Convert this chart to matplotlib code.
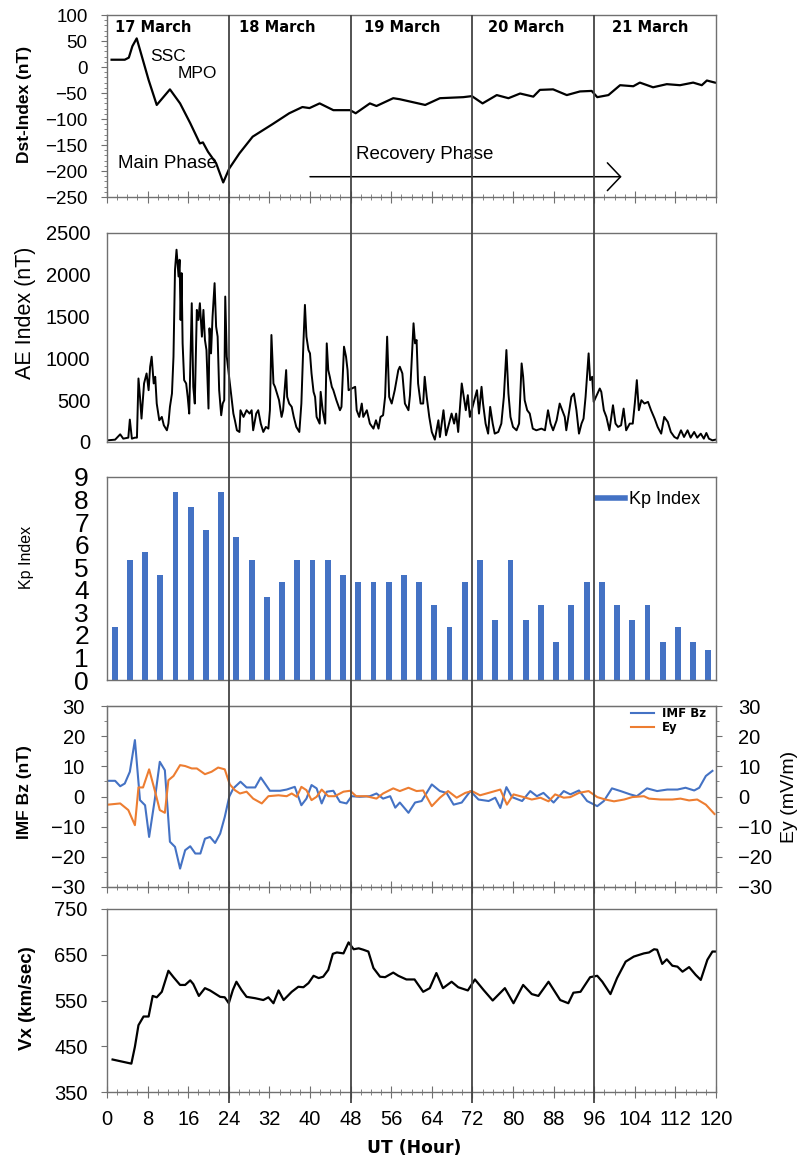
import matplotlib
matplotlib.use("Agg")
import matplotlib.pyplot as plt
import matplotlib.ticker as ticker
from matplotlib import font_manager
from matplotlib.lines import Line2D
import numpy as np

plt.rcParams["font.family"] = "Liberation Sans"
names = {f.name for f in font_manager.fontManager.ttflist}
NARROW = "Liberation Sans Narrow" if "Liberation Sans Narrow" in names else "Liberation Sans"

### Data ###
days = ["17 March", "18 March", "19 March", "20 March", "21 March"]

# Dst index (nT)
dst_hour = [0.9, 3.5, 4.3, 5.0, 5.85, 6.5, 8.2, 9.8, 12.4, 14.4,
            16.4, 18.3, 18.9, 19.9, 21.5, 22.9, 24.1, 26.1, 28.7, 31.3,
            32.6, 35.9, 38.5, 39.9, 41.9, 44.6, 47.9, 49.0, 51.8, 53.1,
            56.4, 57.7, 62.7, 65.6, 70.2, 71.9, 74.0, 76.8, 79.1, 81.4,
            84.0, 85.3, 87.9, 90.6, 93.2, 95.5, 96.6, 98.8, 101.1, 103.7,
            105.0, 107.6, 110.3, 112.9, 115.5, 117.2, 118.2, 119.8]
dst_nt = [14, 14, 18, 40, 55, 33, -25, -73, -43, -70,
          -108, -147, -145, -163, -185, -222, -195, -166, -134, -118,
          -110, -89, -77, -79, -70, -83, -83, -89, -70, -75,
          -60, -62, -73, -60, -58, -56, -70, -54, -60, -51,
          -57, -44, -43, -54, -47, -46, -58, -54, -35, -37,
          -30, -39, -33, -35, -30, -35, -26, -30]

# AE index (nT)
ae_hour = [0.1, 1.6, 2.6, 3.2, 4.2, 4.5, 4.9, 5.5, 5.9, 6.2,
           6.5, 6.8, 7.3, 7.8, 8.2, 8.5, 8.8, 9.2, 9.5, 9.8,
           10.3, 10.8, 11.2, 11.8, 12.1, 12.4, 12.8, 13.1, 13.4, 13.7,
           14.1, 14.3, 14.5, 14.7, 14.9, 15.2, 15.6, 15.9, 16.2, 16.7,
           17.0, 17.3, 17.7, 18.0, 18.3, 18.7, 19.0, 19.3, 19.6, 20.0,
           20.2, 20.5, 20.8, 21.2, 21.5, 21.8, 22.1, 22.5, 22.8, 23.1,
           23.3, 23.6, 24.9, 25.2, 25.6, 26.1, 26.3, 26.9, 27.5, 28.1,
           28.5, 28.8, 29.4, 29.8, 30.3, 30.8, 31.3, 31.8, 32.1, 32.4,
           32.8, 33.1, 33.4, 33.9, 34.4, 34.7, 35.3, 35.5, 35.9, 36.4,
           36.8, 37.3, 37.9, 38.3, 38.7, 39.0, 39.3, 39.7, 40.0, 40.3,
           40.7, 41.0, 41.3, 41.9, 42.1, 42.5, 43.0, 43.3, 43.6, 43.9,
           44.3, 44.6, 45.2, 45.9, 46.2, 46.7, 47.1, 47.4, 47.6, 48.9,
           49.2, 49.7, 50.2, 50.5, 51.2, 51.8, 52.5, 53.0, 53.5, 53.9,
           54.4, 54.8, 55.2, 55.6, 56.1, 56.7, 57.4, 57.7, 58.2, 58.7,
           59.4, 59.7, 60.0, 60.4, 60.7, 61.0, 61.3, 61.8, 62.3, 62.6,
           63.0, 63.5, 64.0, 64.6, 65.3, 65.6, 66.3, 66.8, 67.4, 67.9,
           68.4, 68.8, 69.2, 69.9, 70.3, 70.7, 71.1, 71.5, 72.9, 73.3,
           73.8, 74.1, 74.6, 75.1, 75.5, 76.0, 76.4, 77.1, 77.7, 78.2,
           78.7, 79.1, 79.5, 80.0, 80.7, 81.2, 81.7, 82.0, 82.3, 82.8,
           83.3, 83.9, 84.6, 85.6, 86.3, 86.9, 87.4, 87.9, 88.6, 89.2,
           89.7, 90.2, 90.5, 91.1, 91.5, 92.0, 92.5, 93.0, 93.5, 93.9,
           94.3, 94.9, 95.2, 95.6, 95.9, 97.1, 97.4, 97.9, 98.4, 99.0,
           99.7, 100.2, 100.7, 101.3, 101.8, 102.3, 103.0, 103.6, 104.0, 104.4,
           104.8, 105.3, 105.9, 106.6, 107.2, 107.9, 108.5, 109.2, 109.8, 110.5,
           111.1, 111.8, 112.4, 113.1, 113.7, 114.4, 115.0, 115.7, 116.3, 117.0,
           117.6, 118.1, 118.6, 119.3, 119.9]
ae_nt = [20, 28, 92, 40, 52, 268, 40, 52, 52, 760,
         540, 280, 700, 820, 620, 900, 1020, 700, 780, 460,
         260, 300, 200, 140, 220, 420, 580, 1020, 2060, 2300,
         1980, 2180, 1460, 2020, 1180, 740, 700, 540, 340, 1660,
         660, 460, 1580, 1460, 1660, 1260, 1580, 1220, 1100, 400,
         1360, 1060, 1500, 1900, 1380, 1260, 620, 320, 460, 500,
         1740, 1020, 340, 260, 140, 120, 380, 300, 380, 340,
         380, 140, 340, 380, 220, 120, 180, 160, 380, 1280,
         700, 660, 600, 500, 300, 380, 860, 540, 460, 420,
         300, 180, 120, 460, 1180, 1640, 1260, 1100, 1060, 820,
         600, 540, 300, 220, 600, 380, 220, 1180, 860, 780,
         660, 620, 500, 380, 420, 1140, 1020, 860, 620, 660,
         380, 300, 460, 300, 380, 220, 160, 260, 160, 300,
         320, 540, 1260, 540, 460, 620, 860, 900, 820, 460,
         380, 560, 940, 1420, 1180, 1220, 700, 460, 460, 780,
         540, 300, 120, 28, 260, 60, 380, 80, 220, 340,
         220, 340, 120, 700, 540, 380, 560, 300, 620, 340,
         660, 460, 220, 100, 420, 220, 100, 120, 220, 540,
         1100, 580, 300, 180, 140, 220, 940, 780, 500, 380,
         340, 160, 140, 160, 140, 380, 220, 140, 260, 460,
         380, 300, 140, 380, 540, 580, 380, 100, 220, 280,
         540, 1060, 740, 780, 480, 640, 600, 380, 300, 140,
         440, 220, 180, 200, 400, 140, 220, 220, 460, 740,
         380, 500, 460, 480, 380, 280, 180, 100, 300, 240,
         120, 60, 40, 140, 60, 140, 52, 120, 52, 100,
         40, 108, 40, 20, 28]

# Kp index, 3-hourly
kp_val = [2.33, 5.33, 5.67, 4.67, 8.33, 7.67, 6.67, 8.33,
          6.33, 5.33, 3.67, 4.33, 5.33, 5.33, 5.33, 4.67,
          4.33, 4.33, 4.33, 4.67, 4.33, 3.33, 2.33, 4.33,
          5.33, 2.67, 5.33, 2.67, 3.33, 1.67, 3.33, 4.33,
          4.33, 3.33, 2.67, 3.33, 1.67, 2.33, 1.67, 1.33]

# IMF Bz (nT) and Ey (mV/m)
bz_hour = [0.2, 1.6, 2.6, 3.5, 4.5, 5.5, 6.5, 7.5, 8.3, 9.4,
           10.4, 11.4, 12.4, 13.4, 14.4, 15.4, 16.4, 17.4, 18.4, 19.3,
           20.3, 21.3, 22.3, 23.2, 24.1, 24.9, 26.3, 27.5, 29.2, 30.3,
           32.1, 34.1, 35.4, 37.0, 38.3, 39.3, 40.3, 41.3, 42.3, 43.3,
           44.6, 45.9, 47.2, 48.2, 49.8, 51.8, 53.1, 54.4, 55.8, 56.8,
           57.7, 59.4, 60.7, 62.0, 64.0, 65.6, 66.9, 68.3, 69.9, 71.6,
           73.2, 75.2, 76.5, 77.5, 78.7, 79.8, 81.8, 83.4, 84.7, 86.0,
           88.0, 90.0, 91.3, 93.0, 94.6, 96.6, 97.9, 99.5, 101.2, 103.1,
           104.4, 106.4, 108.4, 110.4, 112.4, 114.0, 115.7, 116.7, 118.0, 119.3]
bz_nt = [5.2, 5.2, 3.4, 4.3, 8.2, 18.7, -1.2, -2.9, -13.4, -1.2,
         11.5, 8.7, -15, -16.7, -23.9, -17.8, -16.5, -18.9, -18.9, -14,
         -13.4, -15.4, -12.3, -6.8, 0, 2.7, 4.9, 3, 3, 6.3,
         1.9, 1.9, 2.3, 3.2, -2.9, -0.7, 3.8, 2.7, -2.3, 1.6,
         1.9, -1.8, -2.3, 0.1, -0.1, 0.1, 1, -0.7, 0.1, -3.7,
         -2, -5.4, -2, -1.5, 4, 1.8, 1.2, -2.7, -2, 1.8,
         -1, -1.5, -0.4, -3.8, 3.1, -0.2, -1.5, 1.8, 0.1, 1.2,
         -2, 1.8, 0.7, 2, -1.5, -3.2, -1.5, 2.7, 1.8, 0.7,
         0.1, 2.7, 1.8, 2.3, 2.3, 2.9, 2, 2.9, 6.8, 8.5]
ey_hour = [0.2, 2.6, 4.2, 5.5, 6.2, 7.1, 8.3, 9.4, 10.4, 11.4,
           12.1, 13.1, 14.4, 15.4, 16.7, 17.7, 19.3, 20.6, 21.9, 23.2,
           24.2, 25.2, 26.2, 27.5, 28.8, 30.5, 31.8, 33.8, 35.4, 36.4,
           37.4, 38.3, 39.3, 40.3, 41.3, 42.3, 43.6, 44.9, 46.6, 47.9,
           49.1, 51.1, 53.1, 54.4, 56.4, 57.7, 59.4, 61.0, 62.3, 64.0,
           65.6, 67.2, 68.9, 70.6, 71.9, 73.5, 75.2, 77.5, 78.8, 80.1,
           82.1, 83.7, 85.4, 87.0, 88.3, 90.0, 91.3, 93.0, 94.9, 96.6,
           98.2, 99.9, 101.9, 103.5, 105.8, 106.8, 109.1, 111.4, 113.0, 114.7,
           116.3, 118.0, 119.7]
ey_mv = [-2.7, -2.3, -4.5, -9.5, 3, 3, 9, 2.1, -4.5, -5.4,
         5.4, 6.8, 10.4, 10.1, 9.3, 9.3, 7.4, 8.2, 9.6, 9,
         4, 2.1, 1, 1.6, -0.7, -2.3, 0.1, 0.4, 0.1, 1,
         -0.1, 3.2, 2.1, -1.2, -0.1, 2.3, 0.1, 0.1, 1.6, 1.9,
         0.1, 0.1, -0.7, 1, 2.7, 1.8, 2.9, 1.8, 2, -3.2,
         -0.4, 1.8, -0.4, 1.2, 1.8, 0.4, 1.2, 2.3, -2.7, 0.7,
         -0.2, -1, -0.4, -1.6, 0.7, -0.4, -0.2, 1.2, 1.8, -0.2,
         -1, -1.6, -1, -0.2, 0.1, -0.7, -1, -1, -0.7, -1.3,
         -1, -2.7, -5.8]

# Solar wind Vx (km/sec)
vx_hour = [1.1, 4.8, 5.5, 6.2, 7.2, 8.2, 9.0, 9.8, 10.8, 12.1,
           13.1, 14.4, 15.4, 16.4, 17.0, 18.1, 19.3, 20.3, 22.3, 23.2,
           24.0, 24.8, 25.5, 26.5, 27.5, 29.2, 30.8, 31.8, 32.8, 33.8,
           34.8, 36.4, 37.7, 38.7, 39.7, 40.7, 41.7, 42.6, 43.6, 44.5,
           45.3, 46.6, 47.6, 48.6, 49.6, 50.5, 51.5, 52.5, 53.8, 54.8,
           56.4, 57.4, 59.0, 60.6, 62.3, 63.6, 64.9, 66.2, 67.9, 69.2,
           71.1, 72.5, 74.2, 76.0, 78.4, 80.1, 82.0, 83.7, 85.0, 87.0,
           89.3, 90.9, 91.9, 93.3, 95.2, 96.6, 97.6, 99.2, 100.5, 102.2,
           103.8, 105.8, 106.8, 107.8, 108.4, 109.4, 110.3, 111.4, 112.4, 113.4,
           114.7, 116.0, 117.0, 118.3, 119.3, 120.0]
vx_kms = [421, 412, 449, 496, 515, 515, 560, 557, 569, 615,
          601, 584, 584, 594, 586, 560, 577, 572, 558, 557,
          544, 573, 591, 573, 558, 555, 551, 557, 544, 572,
          551, 569, 580, 579, 588, 604, 599, 602, 617, 652,
          655, 653, 677, 662, 664, 661, 657, 621, 602, 601,
          611, 604, 596, 596, 569, 577, 610, 577, 591, 579,
          572, 596, 573, 550, 577, 544, 584, 564, 560, 591,
          551, 544, 567, 569, 601, 604, 591, 564, 599, 635,
          646, 653, 655, 662, 661, 630, 640, 626, 624, 613,
          623, 606, 595, 639, 657, 657]
vx_ticks = [350, 450, 550, 650, 750]

### Figure layout (pixel based, 800 x 1158) ###
W, H = 800, 1158
X0, X1 = 107, 716
SPINE = "#707070"
BLUE = "#4472C4"
ORANGE = "#ED7D31"

fig = plt.figure(figsize=(8, 11.58), dpi=100)


def panel(top, bottom):
    ax = fig.add_axes([X0 / W, 1 - bottom / H, (X1 - X0) / W, (bottom - top) / H])
    for s in ax.spines.values():
        s.set_color(SPINE)
        s.set_linewidth(1.0)
    ax.set_xlim(0, 120)
    return ax


def hour_ticks(ax, labels=False):
    ax.xaxis.set_major_locator(ticker.MultipleLocator(8))
    ax.xaxis.set_minor_locator(ticker.MultipleLocator(2))
    ax.tick_params(axis="x", which="major", direction="inout", length=8,
                   color=SPINE, labelbottom=labels, labelsize=14.5, pad=9)
    ax.tick_params(axis="x", which="minor", direction="inout", length=4, color=SPINE)


def label(x, y, s, **kw):
    fig.text(x / W, 1 - y / H, s, ha="center", va="center", **kw)


# --- Dst ---
ax1 = panel(15, 197)
ax1.plot(dst_hour, dst_nt, color="black", lw=1.6)
ax1.set_ylim(-250, 100)
ax1.yaxis.set_major_locator(ticker.MultipleLocator(50))
ax1.yaxis.set_minor_locator(ticker.MultipleLocator(10))
ax1.tick_params(axis="y", which="major", length=4, color=SPINE, labelsize=13.5, pad=10)
ax1.tick_params(axis="y", which="minor", length=2, color=SPINE)
hour_ticks(ax1)
for i, d in enumerate(days):
    ax1.text(24 * i + 1.6 + 0.5 * i, 76, d, fontsize=10.5, fontweight="bold",
             family="DejaVu Sans", va="center", ha="left")
ax1.text(8.5, 21, "SSC", fontsize=12.5, family=NARROW, va="center")
ax1.text(14.0, -12, "MPO", fontsize=12.5, family=NARROW, va="center")
ax1.text(2.2, -185, "Main Phase", fontsize=13.5, family=NARROW, va="center")
ax1.text(49.1, -169, "Recovery Phase", fontsize=13.5, family=NARROW, va="center")
ax1.annotate("", xy=(101.4, -211), xytext=(40, -211),
             arrowprops=dict(arrowstyle="->,head_length=0.95,head_width=1.0",
                             color="black", lw=1.1, shrinkA=0, shrinkB=0,
                             mutation_scale=10))
label(25, 104, "Dst-Index (nT)", rotation=90, fontsize=12.5,
      fontweight="bold", family=NARROW)

# --- AE ---
ax2 = panel(233, 442)
ax2.plot(ae_hour, ae_nt, color="black", lw=1.4)
ax2.set_ylim(0, 2500)
ax2.yaxis.set_major_locator(ticker.MultipleLocator(500))
ax2.tick_params(axis="y", length=0, labelsize=14.5, pad=12)
ax2.tick_params(axis="x", length=0, labelbottom=False)
label(26, 313, "AE Index (nT)", rotation=90, fontsize=15.5)

# --- Kp ---
ax3 = panel(477, 680)
ax3.bar(np.arange(len(kp_val)) * 3 + 1.5, kp_val, width=1.15, color=BLUE)
ax3.set_ylim(0, 9)
ax3.yaxis.set_major_locator(ticker.MultipleLocator(1))
ax3.tick_params(axis="y", length=0, labelsize=19, pad=13)
ax3.tick_params(axis="x", length=0, labelbottom=False)
ax3.legend([Line2D([], [], color=BLUE, lw=4)], ["Kp Index"], loc="upper right",
           bbox_to_anchor=(0.974, 0.93), frameon=False, borderpad=0, borderaxespad=0,
           handlelength=1.5, handletextpad=0.25,
           prop=dict(family=NARROW, size=13))
label(27, 557, "Kp Index", rotation=90, fontsize=11.5, family=NARROW)

# --- IMF Bz / Ey ---
ax4 = panel(706, 887)
ax4b = ax4.twinx()
for s in ax4b.spines.values():
    s.set_color(SPINE)
ln_ey, = ax4b.plot(ey_hour, ey_mv, color=ORANGE, lw=1.5)
ln_bz, = ax4.plot(bz_hour, bz_nt, color=BLUE, lw=1.5)
for a in (ax4, ax4b):
    a.set_ylim(-30, 30)
    a.yaxis.set_major_locator(ticker.MultipleLocator(10))
    a.yaxis.set_minor_locator(ticker.MultipleLocator(5))
ax4.tick_params(axis="y", which="major", length=4, color=SPINE, labelsize=14.5, pad=12)
ax4.tick_params(axis="y", which="minor", length=2, color=SPINE)
ax4b.tick_params(axis="y", which="major", length=4, color=SPINE, labelsize=14.5, pad=12)
ax4b.tick_params(axis="y", which="minor", length=2, color=SPINE)
hour_ticks(ax4)
ax4b.legend([ln_bz, ln_ey], ["IMF Bz", "Ey"], loc="upper right",
            bbox_to_anchor=(0.985, 1.0), frameon=False, borderpad=0.1,
            borderaxespad=0, labelspacing=0.1, handlelength=2.0, handletextpad=0.6,
            prop=dict(family="DejaVu Sans", weight="bold", size=8.5))
label(25, 792, "IMF Bz (nT)", rotation=90, fontsize=12.5, fontweight="bold", family=NARROW)
label(790, 797, "Ey (mV/m)", rotation=90, fontsize=14, family=NARROW)

# --- Vx ---
ax5 = panel(909, 1092)
ax5.plot(vx_hour, vx_kms, color="black", lw=1.6)
ax5.set_ylim(vx_ticks[0], vx_ticks[-1])
ax5.set_yticks(vx_ticks)
ax5.tick_params(axis="y", length=4, color=SPINE, labelsize=14.5, pad=10)
hour_ticks(ax5, labels=True)
label(27, 998, "Vx (km/sec)", rotation=90, fontsize=13.5, fontweight="bold", family=NARROW)
label(414, 1148, "UT (Hour)", fontsize=12.3, fontweight="bold", family="DejaVu Sans")

# --- day boundaries drawn through all panels ---
ax_days = fig.add_axes([X0 / W, 1 - 1103 / H, (X1 - X0) / W, (1103 - 15) / H])
ax_days.set_xlim(0, 120)
ax_days.axis("off")
for d in range(24, 120, 24):
    ax_days.axvline(d, color="#444444", lw=1.3)

fig.savefig("out.png", dpi=100)
